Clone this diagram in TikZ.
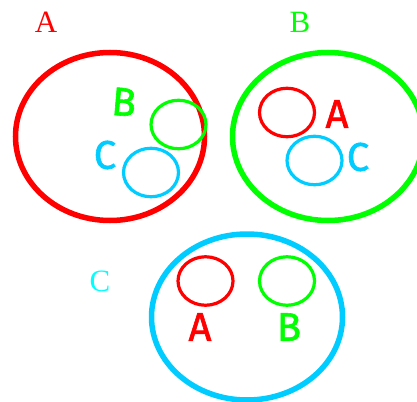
\documentclass[tikz,border=0pt]{standalone}
\usepackage{fontspec}
\setmainfont{Liberation Serif}
\newfontfamily\handfont[FakeBold=1.5]{Fira Sans}
\usetikzlibrary{shapes.geometric}

\definecolor{setred}{RGB}{255,0,0}
\definecolor{setgreen}{RGB}{0,255,0}
\definecolor{setcyan}{RGB}{0,204,255}
\definecolor{titlecyan}{RGB}{0,255,255}

\begin{document}
\begin{tikzpicture}[x=1pt,y=-1pt,
    bigset/.style={ellipse,draw,line width=5.5pt,minimum width=189pt,minimum height=168pt,inner sep=0pt},
    subset/.style={ellipse,draw,line width=3.2pt,minimum width=55pt,minimum height=48.5pt,inner sep=0pt},
    settitle/.style={inner sep=0pt,font=\fontsize{31}{31}\selectfont},
    hand/.style={inner sep=0pt,font=\handfont\fontsize{40}{40}\selectfont}]
    \clip (0,0) rectangle (417,401);
    \useasboundingbox (0,0) rectangle (417,401);

    % Titles
    \node[settitle,setred] (titleA) at (46,22) {A};
    \node[settitle,setgreen] (titleB) at (300,22) {B};
    \node[settitle,titlecyan] (titleC) at (100,281) {C};

    % Set A
    \node[bigset,setred] (setA) at (110,136.5) {};
    \node[subset,setgreen] (AinB) at (178.5,124.5) {};
    \node[subset,setcyan] (AinC) at (151,172.5) {};
    \node[hand,setgreen,rotate=-5] (labAB) at (124,102) {B};
    \node[hand,setcyan] (labAC) at (105,155) {C};

    % Set B
    \node[bigset,setgreen,minimum width=191pt] (setB) at (328,136.5) {};
    \node[subset,setred] (BinA) at (287,112.5) {};
    \node[subset,setcyan] (BinC) at (314.5,160.5) {};
    \node[hand,setred] (labBA) at (337,114) {A};
    \node[hand,setcyan] (labBC) at (358,157) {C};

    % Set C
    \node[bigset,setcyan,minimum width=191pt,minimum height=166pt] (setC) at (247,317) {};
    \node[subset,setred] (CinA) at (205.5,281) {};
    \node[subset,setgreen] (CinB) at (287,281) {};
    \node[hand,setred] (labCA) at (200,327) {A};
    \node[hand,setgreen] (labCB) at (289,327) {B};
\end{tikzpicture}
\end{document}
